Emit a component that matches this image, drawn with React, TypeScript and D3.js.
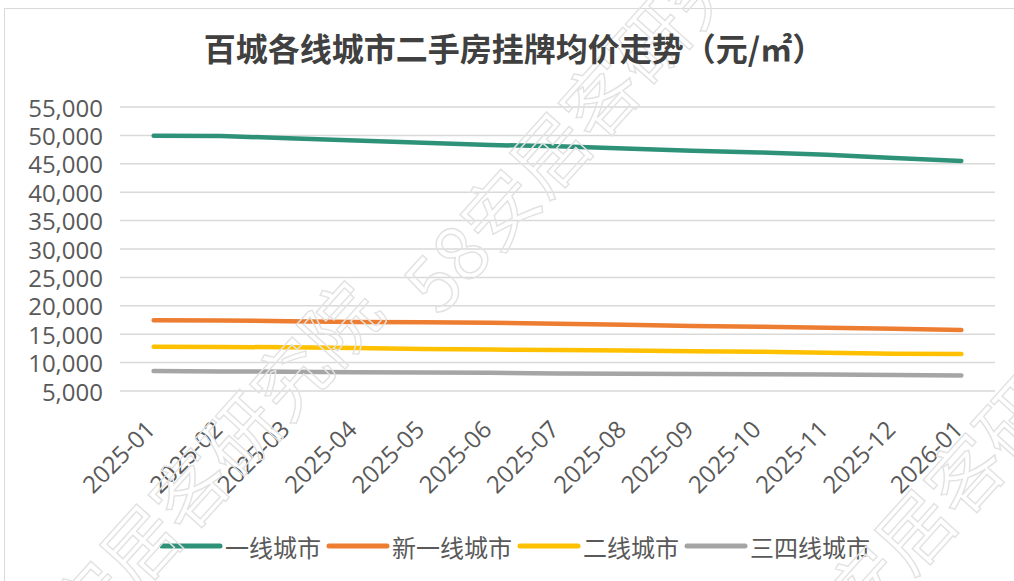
import React from "react";
import * as d3 from "d3";

const months = [
  "2025-01", "2025-02", "2025-03", "2025-04", "2025-05", "2025-06", "2025-07",
  "2025-08", "2025-09", "2025-10", "2025-11", "2025-12", "2026-01",
];
const tier1 = [49950, 49900, 49500, 49100, 48700, 48300, 48100, 47700, 47300, 47000, 46600, 46000, 45500];
const newTier1 = [17450, 17400, 17300, 17150, 17100, 17000, 16850, 16650, 16450, 16300, 16150, 15950, 15750];
const tier2 = [12800, 12750, 12700, 12550, 12400, 12300, 12200, 12150, 12000, 11900, 11750, 11550, 11500];
const tier34 = [8500, 8450, 8400, 8300, 8250, 8200, 8100, 8050, 8000, 7950, 7900, 7800, 7750];
const seriesNames = ["一线城市", "新一线城市", "二线城市", "三四线城市"];
const seriesColors = ["#2e9279", "#ed7d31", "#ffc000", "#a5a5a5"];
const yTicks = [5000, 10000, 15000, 20000, 25000, 30000, 35000, 40000, 45000, 50000, 55000];
const title = "百城各线城市二手房挂牌均价走势（元/㎡）";
const watermark = "58安居客研究院";

export default function App() {
  const W = 1014, H = 581;
  const left = 120, right = 995, top = 107, bottom = 391;
  const x = d3.scaleBand<string>().domain(months).range([left, right]).padding(0);
  const cx = (m: string) => (x(m) as number) + x.bandwidth() / 2;
  const y = d3.scaleLinear().domain([5000, 55000]).range([bottom, top]);
  const fmt = d3.format(",");
  const all = [tier1, newTier1, tier2, tier34];
  const line = d3
    .line<number>()
    .x((_, i) => cx(months[i]))
    .y((v) => y(v));

  const cjk = "'Noto Sans CJK SC', 'Noto Sans', sans-serif";
  const num = "'Open Sans', 'Noto Sans', sans-serif";

  // legend layout
  const legendFont = 24;
  let lx = 162;
  const legendItems = seriesNames.map((n, i) => {
    const item = { n, i, x0: lx, x1: lx + 58, tx: lx + 63 };
    lx = lx + 63 + n.length * legendFont + 8;
    return item;
  });

  return (
    <svg
      width={W}
      height={H}
      style={{ position: "absolute", left: 0, top: 0, background: "#fff" }}
    >
      <rect x={0} y={0} width={W} height={H} fill="#fff" />
      <rect x={4.5} y={8.5} width={1200} height={800} fill="none" stroke="#d9d9d9" strokeWidth={1} />
      {yTicks.map((t) => (
        <g key={t}>
          <line x1={left} x2={right} y1={y(t)} y2={y(t)} stroke="#d9d9d9" strokeWidth={1.5} />
          <text
            x={103}
            y={y(t)}
            textAnchor="end"
            dominantBaseline="central"
            fontFamily={num}
            fontSize={24}
            fill="#595959"
          >
            {fmt(t)}
          </text>
        </g>
      ))}
      {months.map((m) => (
        <text
          key={m}
          transform={`translate(${cx(m) + 3},${431}) rotate(-45)`}
          textAnchor="end"
          fontFamily={num}
          fontSize={24}
          fill="#595959"
        >
          {m}
        </text>
      ))}
      {all.map((s, i) => (
        <path
          key={i}
          d={line(s) as string}
          fill="none"
          stroke={seriesColors[i]}
          strokeWidth={4.5}
          strokeLinecap="round"
          strokeLinejoin="round"
        />
      ))}
      {legendItems.map((it) => (
        <g key={it.n}>
          <line
            x1={it.x0}
            x2={it.x1}
            y1={546}
            y2={546}
            stroke={seriesColors[it.i]}
            strokeWidth={5}
            strokeLinecap="round"
          />
          <text
            x={it.tx}
            y={546}
            dominantBaseline="central"
            fontFamily={cjk}
            fontSize={legendFont}
            fill="#595959"
          >
            {it.n}
          </text>
        </g>
      ))}
      {[
        [440, 318],
        [30, 710],
        [805, 695],
      ].map(([wx, wy], k) => (
        <text
          key={k}
          transform={`translate(${wx},${wy}) rotate(-48)`}
          fontFamily={cjk}
          fontSize={75}
          fill="none"
          stroke="#e2e2e2"
          strokeWidth={1.4}
        >
          {watermark}
        </text>
      ))}
      <text
        x={514}
        y={61}
        textAnchor="middle"
        fontFamily={cjk}
        fontWeight={700}
        fontSize={32}
        fill="#404040"
      >
        {title}
      </text>
    </svg>
  );
}
